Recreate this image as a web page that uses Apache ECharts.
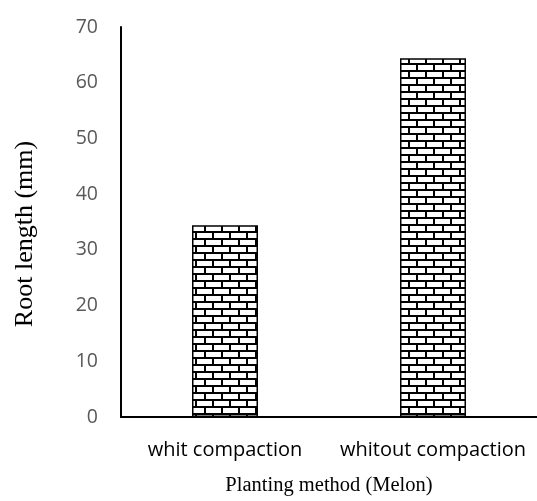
<!DOCTYPE html>
<html><head><meta charset="utf-8">
<script src="https://cdn.jsdelivr.net/npm/echarts@6/dist/echarts.min.js"></script>
<style>html,body{margin:0;padding:0;background:#fff}#c{width:537px;height:501px}</style>
</head><body><div id="c"></div>
<script>
const categories = ['whit compaction', 'whitout compaction'];
const rootLength = [34.4, 64.4];
const yTicks = [0, 10, 20, 30, 40, 50, 60, 70];
const xTitle = 'Planting method (Melon)';
const yTitle = 'Root length (mm)';

function brickPattern() {
  const bw = 17, rh = 7;
  const w = bw * 2, h = rh * 2;
  const cv = document.createElement('canvas');
  cv.width = w; cv.height = h;
  const ctx = cv.getContext('2d');
  ctx.fillStyle = '#fff'; ctx.fillRect(0, 0, w, h);
  ctx.fillStyle = '#000';
  ctx.fillRect(0, 0, w, 2);
  ctx.fillRect(0, rh, w, 2);
  ctx.fillRect(0, 0, 2, rh);
  ctx.fillRect(bw, 0, 2, rh);
  ctx.fillRect(8, rh, 2, rh);
  ctx.fillRect(8 + bw, rh, 2, rh);
  return cv;
}

const chart = echarts.init(document.getElementById('c'));
chart.setOption({
  animation: false,
  grid: { left: 121, right: 0, top: 27, bottom: 81, containLabel: false },
  xAxis: {
    type: 'category', data: categories,
    axisLine: { lineStyle: { color: '#000', width: 2 } },
    axisTick: { show: false },
    axisLabel: { color: '#000', fontFamily: 'Open Sans', fontSize: 20, margin: 23, interval: 0, hideOverlap: false },
    name: xTitle, nameLocation: 'middle', nameGap: 58,
    nameTextStyle: { fontFamily: 'Liberation Serif', fontSize: 20.5, color: '#000' }
  },
  yAxis: {
    type: 'value', min: 0, max: 70, interval: 10,
    splitLine: { show: false },
    axisLine: { show: true, lineStyle: { color: '#000', width: 2 } },
    axisTick: { show: false },
    axisLabel: { color: '#595959', fontFamily: 'Open Sans', fontSize: 19.5, margin: 23,
      formatter: v => yTicks.includes(v) ? String(v) : '' },
    name: yTitle, nameLocation: 'middle', nameGap: 83, nameRotate: 90,
    nameTextStyle: { fontFamily: 'Liberation Serif', fontSize: 26, color: '#000', padding: [0, 24, 0, 0] }
  },
  series: [{
    type: 'bar', data: rootLength, barWidth: 66,
    itemStyle: { color: { image: brickPattern(), repeat: 'repeat' }, borderColor: '#000', borderWidth: 1.5 }
  }]
});
</script></body></html>
